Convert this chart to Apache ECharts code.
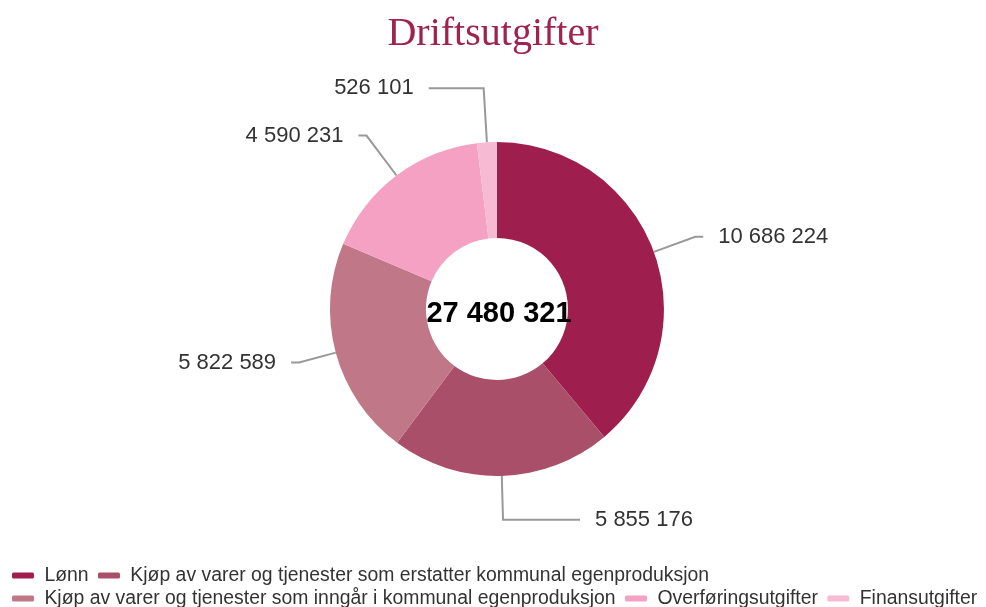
<!DOCTYPE html>
<html>
<head>
<meta charset="utf-8">
<script src="https://cdn.jsdelivr.net/npm/echarts@6/dist/echarts.min.js"></script>
<style>
  html, body { margin: 0; padding: 0; background: #fff; }
  #chart { width: 986px; height: 607px; }
</style>
</head>
<body>
<div id="chart"></div>
<script>
// data
const categories = [
  'Lønn',
  'Kjøp av varer og tjenester som erstatter kommunal egenproduksjon',
  'Kjøp av varer og tjenester som inngår i kommunal egenproduksjon',
  'Overføringsutgifter',
  'Finansutgifter'
]
const values = [10686224, 5855176, 5822589, 4590231, 526101]
const colors = ['#9e1f4e', '#aa4f69', '#c07787', '#f4a1c3', '#f6bbd3']
// label line lengths per slice
const lineLen = [44, 44, 38, 50, 54]
const lineLen2 = [8, 77, 8, 8, 55]

const fmt = (v) => String(v).replace(/\B(?=(\d{3})+(?!\d))/g, ' ')
const total = values.reduce((a, b) => a + b, 0)

const chart = echarts.init(document.getElementById('chart'))
chart.setOption({
  animation: false,
  title: [
    {
      text: 'Driftsutgifter', left: 'center', top: 9,
      textStyle: { fontFamily: 'Liberation Serif', fontSize: 40, fontWeight: 'normal', color: '#a0234f' },
    },
    {
      text: fmt(total), left: '50.1%', top: '50.9%',
      textAlign: 'center', textVerticalAlign: 'middle',
      textStyle: { fontFamily: 'Liberation Sans', fontSize: 29, fontWeight: 'bold', color: '#000' },
    },
  ],
  legend: {
    data: categories, left: 7, width: 990, bottom: -6,
    icon: 'roundRect', itemWidth: 22, itemHeight: 6, itemGap: 4,
    formatter: (name) => ' ' + name + ' ',
    textStyle: { fontFamily: 'Liberation Sans', fontSize: 19.4, color: '#333' },
  },
  series: [{
    type: 'pie',
    center: ['50.4%', '50.9%'],
    radius: [71, 167],
    startAngle: 90,
    avoidLabelOverlap: false,
    label: {
      show: true, formatter: (p) => fmt(p.value),
      fontFamily: 'Liberation Sans', fontSize: 22, color: '#333',
      distanceToLabelLine: 15,
    },
    labelLine: { lineStyle: { color: '#999', width: 2 } },
    data: categories.map((name, i) => ({
      name, value: values[i],
      itemStyle: { color: colors[i] },
      labelLine: { length: lineLen[i], length2: lineLen2[i] },
    })),
  }],
})
</script>
</body>
</html>
